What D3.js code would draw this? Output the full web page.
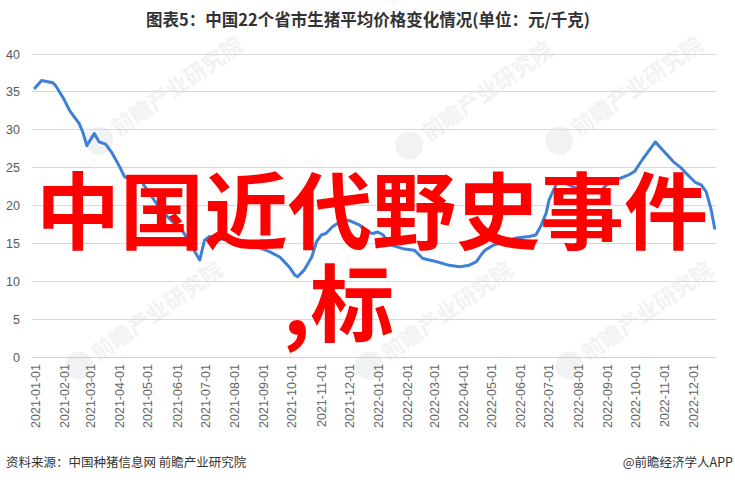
<!DOCTYPE html>
<html><head><meta charset="utf-8">
<script src="https://cdn.jsdelivr.net/npm/d3@7"></script>
<style>
html,body{margin:0;padding:0;background:#fff;}
svg{display:block;font-family:"Noto Sans CJK SC","Noto Sans",sans-serif;}
</style></head>
<body><svg id="c" width="735" height="483"></svg>
<script>
const title = "图表5：中国22个省市生猪平均价格变化情况(单位：元/千克)";
const source = "资料来源：中国种猪信息网 前瞻产业研究院";
const credit = "@前瞻经济学人APP";
const overlayLine1 = "中国近代野史事件";
const overlayLine2 = ",标";
const watermark = "前瞻产业研究院";

const yTicks = [0,5,10,15,20,25,30,35,40];
const xTickLabels = ["2021-01-01","2021-02-01","2021-03-01","2021-04-01","2021-05-01","2021-06-01",
 "2021-07-01","2021-08-01","2021-09-01","2021-10-01","2021-11-01","2021-12-01",
 "2022-01-01","2022-02-01","2022-03-01","2022-04-01","2022-05-01","2022-06-01",
 "2022-07-01","2022-08-01","2022-09-01","2022-10-01","2022-11-01","2022-12-01"];

const dates = ["2021-01-01","2021-01-08","2021-01-20","2021-01-23","2021-01-31","2021-02-07","2021-02-17",
 "2021-02-21","2021-02-25","2021-03-05","2021-03-10","2021-03-17","2021-03-24","2021-04-01","2021-04-06",
 "2021-04-25","2021-05-15","2021-05-29","2021-06-07","2021-06-25","2021-06-30","2021-07-05","2021-07-21",
 "2021-08-06","2021-08-24","2021-09-07","2021-09-18","2021-09-28","2021-10-04","2021-10-07","2021-10-14",
 "2021-10-22","2021-10-27","2021-11-01","2021-11-06","2021-11-13","2021-11-24","2021-12-01","2021-12-12",
 "2021-12-19","2021-12-26","2021-12-31","2022-01-06","2022-01-13","2022-01-27","2022-02-08","2022-02-17",
 "2022-03-03","2022-03-17","2022-03-28","2022-04-07","2022-04-15","2022-04-20","2022-04-24","2022-05-02",
 "2022-05-13","2022-05-27","2022-06-10","2022-06-17","2022-06-22","2022-06-28","2022-07-01","2022-07-05",
 "2022-07-10","2022-07-19","2022-07-30","2022-08-10","2022-08-24","2022-08-31","2022-09-11","2022-09-23",
 "2022-09-30","2022-10-09","2022-10-22","2022-10-30","2022-11-10","2022-11-19","2022-11-24","2022-12-03",
 "2022-12-10","2022-12-15","2022-12-20","2022-12-24"];
const prices = [35.5,36.5,36.2,35.8,34.2,32.5,30.8,
 29.6,27.9,29.5,28.4,28.1,26.9,25.1,23.8,
 23.0,19.4,17.6,16.6,12.8,15.4,15.9,15.5,
 15.3,14.6,13.9,13.2,11.9,10.8,10.6,11.5,
 13.2,15.2,16.1,16.3,17.2,18.1,18.0,17.4,
 16.5,16.3,16.5,16.1,14.8,14.3,14.1,13.0,
 12.6,12.1,11.9,12.1,12.6,13.5,14.1,14.7,
 15.2,15.7,15.9,16.1,17.2,19.0,20.7,21.8,
 23.1,22.9,22.3,21.8,21.8,22.7,23.4,24.0,
 24.5,26.2,28.4,27.3,25.8,24.9,24.2,23.1,
 22.7,21.8,19.6,17.0];

const parse = d3.utcParse("%Y-%m-%d");
const data = dates.map((d,i)=>({date:parse(d), v:prices[i]}));

const svg = d3.select("#c");
const plotL = 32, plotR = 716;
const x = d3.scaleUtc().domain([parse("2021-01-01"), parse("2022-12-01")]).range([35, 693]);
const y = d3.scaleLinear().domain([0,40]).range([357, 54]);

// faint watermarks
const wm = [[150,105],[460,110],[610,105],[130,330],[420,330],[620,330]];
wm.forEach(([cx,cy])=>{
  const g = svg.append("g").attr("transform",`translate(${cx},${cy}) rotate(-35)`);
  g.append("circle").attr("cx",-62).attr("cy",0).attr("r",14).attr("fill","#f1f2f4");
  g.append("text").attr("x",-44).attr("y",8).attr("font-size",22).attr("fill","#f1f2f4")
   .attr("font-weight","bold").text(watermark);
});

// gridlines
svg.append("g").selectAll("line").data(yTicks.filter(t=>t>0)).join("line")
  .attr("x1",plotL).attr("x2",plotR).attr("y1",d=>y(d)).attr("y2",d=>y(d))
  .attr("stroke","#d9d9d9").attr("stroke-width",1).attr("shape-rendering","crispEdges");
svg.append("line").attr("x1",plotL).attr("x2",plotR).attr("y1",y(0)).attr("y2",y(0))
  .attr("stroke","#d0d0d0").attr("stroke-width",1).attr("shape-rendering","crispEdges");

// y labels
svg.append("g").selectAll("text").data(yTicks).join("text")
  .attr("x",20).attr("y",d=>y(d)+4.5).attr("text-anchor","end")
  .attr("font-size",12.5).attr("fill","#595959").attr("font-family","Liberation Sans, Arial, sans-serif")
  .text(d=>d);

// x labels
svg.append("g").selectAll("text").data(xTickLabels).join("text")
  .attr("transform",d=>`translate(${x(parse(d))+4.5},364) rotate(-90)`)
  .attr("text-anchor","end").attr("font-size",12.5).attr("fill","#666")
  .attr("font-family","Liberation Sans, Arial, sans-serif")
  .text(d=>d);

// line
const line = d3.line().x(d=>x(d.date)).y(d=>y(d.v));
svg.append("path").datum(data).attr("d",line).attr("fill","none")
  .attr("stroke","#3d80d5").attr("stroke-width",3).attr("stroke-linejoin","round").attr("stroke-linecap","round");

// title
svg.append("text").attr("x",368).attr("y",26).attr("text-anchor","middle")
  .attr("font-size",16.5).attr("font-weight","bold").attr("fill","#333").text(title);

// footer
svg.append("text").attr("x",6).attr("y",467).attr("font-size",12.5).attr("fill","#333").text(source);
svg.append("text").attr("x",733).attr("y",467).attr("text-anchor","end").attr("font-size",12.5).attr("fill","#333").text(credit);

// overlay red text
svg.append("text").attr("x",36).attr("y",243).attr("font-size",84).attr("font-weight","bold")
  .attr("fill","#ff0000").text(overlayLine1);
svg.append("text").attr("x",283).attr("y",335).attr("font-size",84).attr("font-weight","bold")
  .attr("fill","#ff0000").text(overlayLine2);
</script></body></html>
